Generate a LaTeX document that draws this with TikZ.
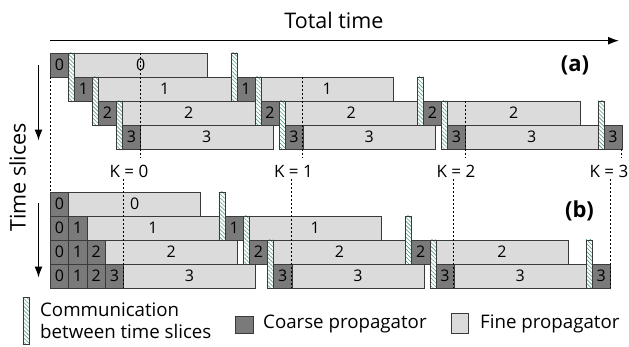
\documentclass[tikz,border=0pt]{standalone}
\usepackage{fontspec}
\setmainfont{Open Sans}
\usetikzlibrary{positioning,arrows.meta,patterns.meta,calc}
\definecolor{coarse}{HTML}{7A7A7A}
\definecolor{fine}{HTML}{DBDBDB}
\definecolor{commc}{HTML}{5A9C8C}
\definecolor{edge}{HTML}{3A3A3A}

\begin{document}
\begin{tikzpicture}[x=1pt,y=-1pt,
  font=\fontsize{16}{19}\selectfont,
  >={Latex[length=11pt,width=8pt]},
  box/.style={draw=edge,line width=0.7pt,inner sep=0pt,anchor=north west,minimum height=24pt},
  crs/.style={box,fill=coarse,minimum width=#1},
  crs/.default=18pt,
  fn/.style={box,fill=fine,minimum width=#1},
  fn/.default=132.5pt,
  comm/.style={draw=edge,line width=0.5pt,preaction={fill=white},
    pattern={Lines[angle=-45,distance=2.8pt,line width=0.6pt]},pattern color=commc,
    inner sep=0pt,anchor=north west,minimum width=6pt,minimum height=#1},
  comm/.default=48pt,
  kdash/.style={line width=0.7pt,dash pattern=on 2pt off 2pt},
  klab/.style={font=\fontsize{17}{19}\selectfont,inner sep=1pt},
  big/.style={font=\fontsize{21.5}{24}\selectfont},
  lgd/.style={font=\fontsize{18.7}{21.6}\selectfont,inner sep=0pt,anchor=base west},
  tag/.style={font=\fontsize{22}{24}\selectfont\bfseries},
]
\useasboundingbox (0,0) rectangle (629,346);

% total time axis
\coordinate (tl) at (50,40.7);
\coordinate (tr) at (619,40.7);
\draw[->,line width=1.3pt] (tl) -- (tr);
\node[big,anchor=base] (title) at (334,28.3) {Total time};

% time slices
\node[big,rotate=90,anchor=base] (slices) at (25.5,177.5) {Time slices};
\coordinate (sa1) at (38.5,65);
\coordinate (sa2) at (38.5,140.5);
\coordinate (sb1) at (38.5,203);
\coordinate (sb2) at (38.5,277.5);
\draw[->,line width=1.2pt] (sa1) -- (sa2);
\draw[->,line width=1.2pt] (sb1) -- (sb2);

% (a) one coarse solve per slice and iteration
\foreach \x/\r [count=\n] in {50/0,74/1,98/2,122/3,236.5/1,260.5/2,284.5/3,423/2,447/3,603.5/3}{
  \node[crs] (aC\n) at (\x,{52.5+24*\r}) {\r};
}
\foreach \x/\r [count=\n] in {74/0,98/1,122/2,140/3,260.5/1,284.5/2,302.5/3,447/2,465/3}{
  \node[fn] (aF\n) at (\x,{52.5+24*\r}) {\r};
}
\foreach \x/\r [count=\n] in {68/0,92/1,116/2,230.5/0,254.5/1,278.5/2,417/1,441/2,597.5/2}{
  \node[comm] (aH\n) at (\x,{52.5+24*\r}) {};
}
\node[tag] (taga) at (575,65.5) {(a)};

% (b) serial coarse solves at start
\foreach \r in {0,...,3}{
  \foreach \j in {0,...,\r}{
    \node[crs=18.3pt] (bC\r\j) at ({50+18.3*\j},{191.5+24*\r}) {\j};
  }
}
\foreach \x/\r [count=\n] in {224.6/1,248.9/2,273.2/3,411.2/2,435.5/3,591.8/3}{
  \node[crs=18.3pt] (bK\n) at (\x,{191.5+24*\r}) {\r};
}
\foreach \x/\r [count=\n] in {68.3/0,86.6/1,104.9/2,123.2/3,248.9/1,273.2/2,291.5/3,435.5/2,453.8/3}{
  \node[fn=132pt] (bF\n) at (\x,{191.5+24*\r}) {\r};
}
\foreach \x/\r [count=\n] in {218.6/0,242.9/1,267.2/2,405.2/1,429.5/2,585.8/2}{
  \node[comm] (bH\n) at (\x,{191.5+24*\r}) {};
}
\node[tag] (tagb) at (579.5,210.5) {(b)};

% iteration marks
\draw[kdash] (aC1.south west) -- (bC00.north west);
\foreach \i/\xa/\ya/\xl/\xb in {0/140/52.5/129/123.2,1/302.5/76.5/293.5/291.5,2/465/100.5/456/453.8,3/621.5/148.5/609/610.1}{
  \coordinate (aK\i) at (\xa,\ya);
  \coordinate (aE\i) at (\xa,158);
  \node[klab] (K\i) at (\xl,171) {K = \i};
  \coordinate (bS\i) at (\xb,179);
  \coordinate (bE\i) at (\xb,287.5);
  \draw[kdash] (aK\i) -- (aE\i);
  \draw[kdash] (bS\i) -- (bE\i);
}

% legend
\node[comm=47pt] (lgH) at (22.5,297) {};
\node[lgd,align=left] (lgHt) at (40,338.3) {Communication\\between time slices};
\node[crs,minimum height=17.5pt] (lgC) at (235,315.5) {};
\node[lgd] (lgCt) at (263,328) {Coarse propagator};
\node[fn=17.6pt,minimum height=20pt] (lgF) at (450.7,313) {};
\node[lgd] (lgFt) at (480,328) {Fine propagator};
\end{tikzpicture}
\end{document}
